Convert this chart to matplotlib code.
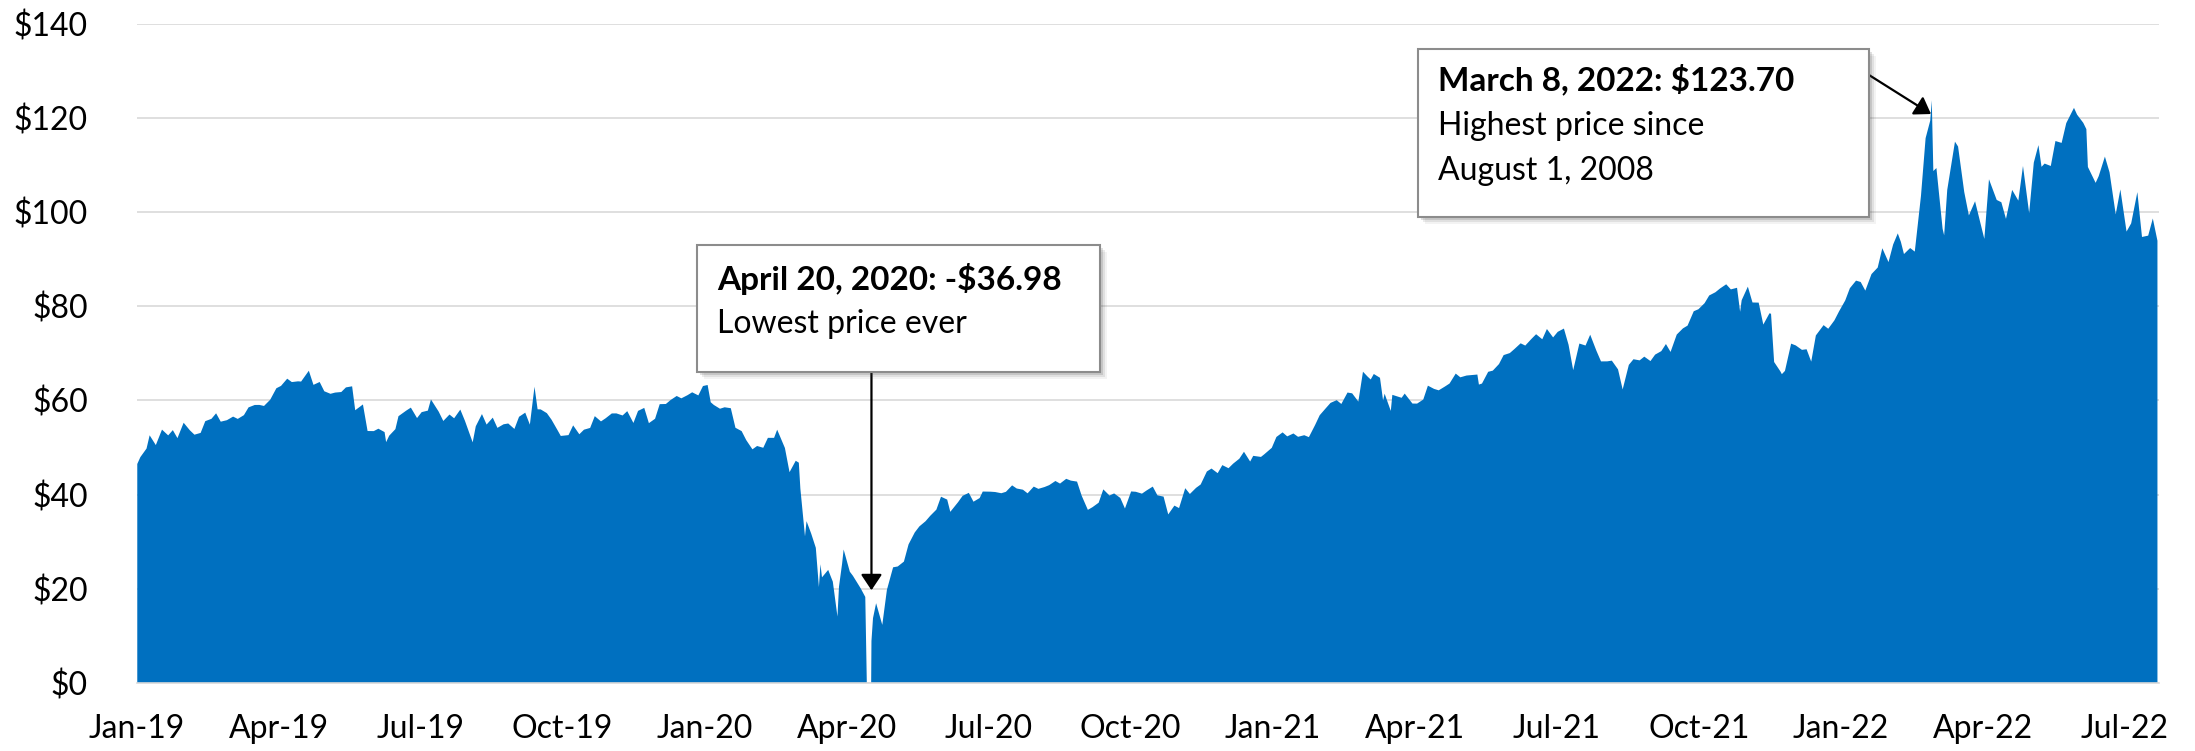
import numpy as np
import pandas as pd
import matplotlib
matplotlib.use("Agg")
import matplotlib.pyplot as plt
import matplotlib.dates as mdates
from matplotlib.patches import Rectangle

plt.rcParams["font.family"] = ["Lato", "DejaVu Sans"]

# WTI crude oil, daily close sampled roughly twice a week (USD per barrel)
days_2019 = ["01-02", "01-04", "01-08", "01-10", "01-14", "01-18", "01-22", "01-25", "01-28",
             "02-01", "02-05", "02-08", "02-12", "02-15", "02-19", "02-22", "02-25",
             "03-01", "03-05", "03-08", "03-12", "03-15", "03-19", "03-22", "03-25", "03-29",
             "04-02", "04-05", "04-09", "04-12", "04-16", "04-18", "04-23", "04-26", "04-30",
             "05-03", "05-07", "05-10", "05-14", "05-17", "05-21", "05-23", "05-28", "05-31",
             "06-04", "06-07", "06-11", "06-12", "06-14", "06-18", "06-20", "06-25", "06-28",
             "07-02", "07-05", "07-09", "07-11", "07-16", "07-19", "07-23", "07-26", "07-30",
             "08-02", "08-07", "08-09", "08-13", "08-16", "08-20", "08-23", "08-27", "08-30",
             "09-03", "09-06", "09-10", "09-13", "09-16", "09-18", "09-20", "09-24", "09-27",
             "10-01", "10-03", "10-08", "10-11", "10-15", "10-18", "10-22", "10-25", "10-29",
             "11-01", "11-05", "11-08", "11-12", "11-15", "11-19", "11-22", "11-26", "11-29",
             "12-03", "12-06", "12-10", "12-13", "12-17", "12-20", "12-24", "12-27", "12-31"]
wti_2019 = [46.5, 47.96, 49.78, 52.59, 50.51, 53.80, 52.57, 53.69, 51.99,
            55.26, 53.66, 52.72, 53.10, 55.59, 56.09, 57.26, 55.48,
            55.80, 56.56, 56.07, 56.87, 58.52, 59.03, 59.04, 58.82, 60.14,
            62.58, 63.08, 64.61, 63.89, 64.05, 64.00, 66.30, 63.30, 63.91,
            61.94, 61.40, 61.66, 61.78, 62.76, 62.99, 57.91, 59.14, 53.50,
            53.48, 53.99, 53.27, 51.14, 52.51, 53.90, 56.65, 57.83, 58.47,
            56.25, 57.51, 57.83, 60.20, 57.62, 55.63, 57.00, 56.20, 58.05,
            55.66, 51.09, 54.50, 57.10, 54.87, 56.34, 54.17, 54.93, 55.10,
            53.94, 56.52, 57.40, 54.85, 62.90, 58.11, 58.09, 57.29, 55.91,
            53.62, 52.45, 52.63, 54.70, 52.81, 53.78, 54.16, 56.66, 55.54,
            56.20, 57.23, 57.24, 56.80, 57.72, 55.21, 57.77, 58.41, 55.17,
            56.10, 59.20, 59.24, 60.07, 60.94, 60.44, 61.11, 61.72, 61.06]

days_2020 = ["01-03", "01-06", "01-08", "01-10", "01-14", "01-17", "01-21", "01-24", "01-28", "01-31",
             "02-04", "02-07", "02-11", "02-14", "02-18", "02-20", "02-25", "02-28",
             "03-03", "03-05", "03-06", "03-09", "03-10", "03-13", "03-16", "03-18", "03-19", "03-20",
             "03-24", "03-27", "03-30", "03-31",
             "04-02", "04-03", "04-07", "04-09", "04-14", "04-17", "04-20", "04-21", "04-22", "04-24",
             "04-28", "05-01", "05-05", "05-08", "05-12", "05-15", "05-19", "05-22", "05-26", "05-29",
             "06-02", "06-05", "06-09", "06-11", "06-16", "06-19", "06-23", "06-26", "06-30",
             "07-02", "07-07", "07-10", "07-14", "07-17", "07-21", "07-24", "07-28", "07-31",
             "08-04", "08-07", "08-11", "08-14", "08-18", "08-21", "08-25", "08-28",
             "09-01", "09-04", "09-08", "09-11", "09-15", "09-18", "09-22", "09-25", "09-29",
             "10-02", "10-06", "10-09", "10-13", "10-16", "10-20", "10-23", "10-27", "10-30",
             "11-03", "11-06", "11-10", "11-13", "11-17", "11-20", "11-24", "11-27",
             "12-01", "12-04", "12-08", "12-11", "12-15", "12-18", "12-22", "12-24", "12-29", "12-31"]
wti_2020 = [63.05, 63.27, 59.61, 59.04, 58.23, 58.54, 58.34, 54.19, 53.48, 51.56,
            49.61, 50.32, 49.94, 52.05, 52.05, 53.78, 49.90, 44.76,
            47.18, 46.78, 41.28, 31.13, 34.36, 31.73, 28.70, 20.37, 25.22, 22.43,
            24.01, 21.51, 14.10, 20.48,
            25.32, 28.34, 23.63, 22.76, 20.11, 18.27, -36.98, 8.91, 13.78, 16.94,
            12.34, 19.78, 24.56, 24.74, 25.78, 29.43, 31.96, 33.25, 34.35, 35.49,
            36.81, 39.55, 38.94, 36.34, 38.38, 39.75, 40.37, 38.49, 39.27,
            40.65, 40.62, 40.55, 40.29, 40.59, 41.96, 41.29, 41.04, 40.27,
            41.70, 41.22, 41.61, 42.01, 42.89, 42.34, 43.35, 42.97,
            42.76, 39.77, 36.76, 37.33, 38.28, 41.11, 39.80, 40.25, 39.29,
            37.05, 40.67, 40.60, 40.20, 40.88, 41.70, 39.85, 39.57, 35.79,
            37.66, 37.14, 41.36, 40.13, 41.43, 42.15, 44.91, 45.53,
            44.55, 46.26, 45.60, 46.57, 47.62, 49.10, 47.02, 48.23, 48.00, 48.52]

days_2021 = ["01-05", "01-08", "01-12", "01-15", "01-19", "01-22", "01-26", "01-29",
             "02-02", "02-05", "02-09", "02-12", "02-16", "02-19", "02-23", "02-26",
             "03-02", "03-05", "03-08", "03-10", "03-12", "03-16", "03-18", "03-19", "03-23", "03-24",
             "03-26", "03-30", "04-01", "04-06", "04-09", "04-13", "04-16", "04-20", "04-23", "04-27",
             "04-30", "05-04", "05-07", "05-11", "05-14", "05-18", "05-19", "05-21", "05-25", "05-28",
             "06-01", "06-04", "06-08", "06-11", "06-15", "06-18", "06-22", "06-25", "06-29",
             "07-02", "07-06", "07-09", "07-13", "07-16", "07-19", "07-23", "07-27", "07-30",
             "08-03", "08-06", "08-10", "08-13", "08-17", "08-20", "08-24", "08-27", "08-31",
             "09-03", "09-07", "09-10", "09-14", "09-17", "09-20", "09-24", "09-28",
             "10-01", "10-05", "10-08", "10-12", "10-15", "10-19", "10-22", "10-26", "10-29",
             "11-02", "11-04", "11-05", "11-09", "11-12", "11-16", "11-19", "11-23", "11-24",
             "11-26", "11-30", "12-01", "12-03", "12-07", "12-10", "12-14", "12-17", "12-20",
             "12-23", "12-28", "12-31"]
wti_2021 = [49.93, 52.24, 53.21, 52.36, 52.98, 52.27, 52.61, 52.20,
            54.76, 56.85, 58.36, 59.47, 60.05, 59.24, 61.67, 61.50,
            59.75, 66.09, 65.05, 64.44, 65.61, 64.80, 60.00, 61.42, 57.76, 61.18,
            60.97, 60.55, 61.45, 59.33, 59.32, 60.18, 63.13, 62.44, 62.14, 62.94,
            63.58, 65.69, 64.90, 65.28, 65.37, 65.49, 63.36, 63.58, 66.07, 66.32,
            67.72, 69.62, 70.05, 70.91, 72.12, 71.64, 73.06, 74.05, 72.98,
            75.16, 73.37, 74.56, 75.25, 71.81, 66.42, 72.07, 71.65, 73.95,
            70.56, 68.28, 68.29, 68.44, 66.59, 62.32, 67.54, 68.74, 68.50,
            69.29, 68.35, 69.72, 70.46, 71.97, 70.29, 73.98, 75.29,
            75.88, 78.93, 79.35, 80.64, 82.28, 82.96, 83.76, 84.65, 83.57,
            83.91, 78.81, 81.27, 84.15, 80.79, 80.76, 76.10, 78.50, 78.39,
            68.15, 66.18, 65.57, 66.26, 72.05, 71.67, 70.73, 70.86, 68.23,
            73.79, 75.98, 75.21]

days_2022 = ["01-04", "01-07", "01-11", "01-14", "01-18", "01-21", "01-24", "01-28",
             "02-01", "02-04", "02-08", "02-11", "02-14", "02-16", "02-18", "02-22", "02-25",
             "03-01", "03-04", "03-07", "03-08", "03-09", "03-11", "03-15", "03-16", "03-18",
             "03-23", "03-25", "03-29", "04-01", "04-05", "04-08", "04-11", "04-14", "04-19",
             "04-22", "04-25", "04-29", "05-03", "05-06", "05-10", "05-13", "05-16", "05-18",
             "05-20", "05-24", "05-27", "05-31", "06-03", "06-08", "06-10", "06-14", "06-16",
             "06-17", "06-22", "06-24", "06-28", "07-01", "07-05", "07-08", "07-12", "07-15",
             "07-19", "07-22", "07-26", "07-29", "08-01"]
wti_2022 = [76.99, 78.90, 81.22, 83.82, 85.43, 85.14, 83.31, 86.82,
            88.20, 92.31, 89.36, 93.10, 95.46, 93.66, 91.07, 92.35, 91.59,
            103.41, 115.68, 119.40, 123.70, 108.70, 109.33, 96.44, 95.04, 104.70,
            114.93, 113.90, 104.24, 99.27, 102.28, 98.26, 94.29, 106.95, 102.56,
            102.07, 98.54, 104.69, 102.41, 109.77, 99.76, 110.49, 114.20, 109.59,
            110.28, 109.77, 115.07, 114.67, 118.87, 122.11, 120.67, 118.93, 117.59,
            109.56, 106.19, 107.62, 111.76, 108.43, 99.50, 104.79, 95.84, 97.59,
            104.22, 94.70, 94.98, 98.62, 93.89]

y_ticks = [0, 20, 40, 60, 80, 100, 120, 140]
x_labels = ["Jan-19", "Apr-19", "Jul-19", "Oct-19", "Jan-20", "Apr-20", "Jul-20", "Oct-20",
            "Jan-21", "Apr-21", "Jul-21", "Oct-21", "Jan-22", "Apr-22", "Jul-22"]

low_note = ("April 20, 2020: -$36.98", "Lowest price ever")
high_note = ("March 8, 2022: $123.70", "Highest price since", "August 1, 2008")

BLUE = "#0070C0"
GRID = "#D9D9D9"
FS = 23
FS_BOLD = 24


def build(year, days, vals):
    return pd.to_datetime([f"{year}-{d}" for d in days]), list(vals)


dates, prices = [], []
for yr, d, v in [(2019, days_2019, wti_2019), (2020, days_2020, wti_2020),
                 (2021, days_2021, wti_2021), (2022, days_2022, wti_2022)]:
    dd, vv = build(yr, d, v)
    dates.extend(dd)
    prices.extend(vv)
dates = pd.DatetimeIndex(dates)
prices = np.array(prices)

W, H = 2195, 751
fig = plt.figure(figsize=(W / 100, H / 100), dpi=100)
ax = fig.add_axes([136.5 / W, (H - 683) / H, (2159 - 136.5) / W, (683 - 23.6) / H])

ax.fill_between(dates, prices, 0, color=BLUE, linewidth=0, zorder=2)

x0 = mdates.date2num(pd.Timestamp("2019-01-02"))
x1 = mdates.date2num(pd.Timestamp("2022-08-02"))
ax.set_xlim(x0, x1)
ax.set_ylim(0, 140)

ax.set_yticks(y_ticks)
ax.set_yticklabels([f"${v}" for v in y_ticks])
ticks = np.linspace(x0 - 0.5, mdates.date2num(pd.Timestamp("2022-07-11")), len(x_labels))
ax.set_xticks(ticks)
ax.set_xticklabels(x_labels)

ax.yaxis.grid(True, color=GRID, linewidth=1.2)
ax.set_axisbelow(True)
for s in ["left", "right", "top"]:
    ax.spines[s].set_visible(False)
ax.spines["bottom"].set_color(GRID)
ax.spines["bottom"].set_linewidth(1.2)
ax.spines["bottom"].set_zorder(3)
ax.tick_params(axis="both", length=0, labelsize=FS, colors="black")
ax.tick_params(axis="y", pad=35)
ax.tick_params(axis="x", pad=22)


def note_box(left, top, right, bottom):
    # soft drop shadow then white box, in figure pixels (top-down)
    for off, a in [(7, 0.06), (5, 0.10), (3, 0.16)]:
        fig.add_artist(Rectangle(((left + off) / W, (H - bottom - off) / H),
                                 (right - left) / W, (bottom - top) / H,
                                 transform=fig.transFigure, facecolor="#404040",
                                 edgecolor="none", alpha=a, zorder=4))
    fig.add_artist(Rectangle((left / W, (H - bottom) / H), (right - left) / W, (bottom - top) / H,
                             transform=fig.transFigure, facecolor="white",
                             edgecolor="#8C8C8C", linewidth=1.5, zorder=5))


def note_text(x, baselines, lines):
    for i, (yb, line) in enumerate(zip(baselines, lines)):
        fig.text(x / W, (H - yb) / H, line, fontsize=FS_BOLD if i == 0 else FS,
                 va="baseline", ha="left",
                 fontweight="bold" if i == 0 else "normal", zorder=6)


arrow = dict(arrowstyle="-|>,head_length=0.6,head_width=0.4", mutation_scale=16,
             color="black", lw=1.6, shrinkA=0, shrinkB=0)

# low point annotation
note_box(697, 245, 1100, 372)
note_text(717, [290, 333], low_note)
apr20 = mdates.date2num(pd.Timestamp("2020-04-21"))
ax.annotate("", xy=(apr20, 19.7), xycoords="data",
            xytext=(apr20, H - 372), textcoords=("data", "figure pixels"),
            arrowprops=arrow, zorder=4)

# high point annotation
note_box(1418, 49, 1869, 217)
note_text(1438, [90, 135, 180], high_note)
mar8 = mdates.date2num(pd.Timestamp("2022-03-07 12:00"))
ax.annotate("", xy=(mar8, 120.8), xycoords="data",
            xytext=(1869, H - 75), textcoords="figure pixels",
            arrowprops=arrow, zorder=4, annotation_clip=False)

fig.savefig("out.png", dpi=100)
